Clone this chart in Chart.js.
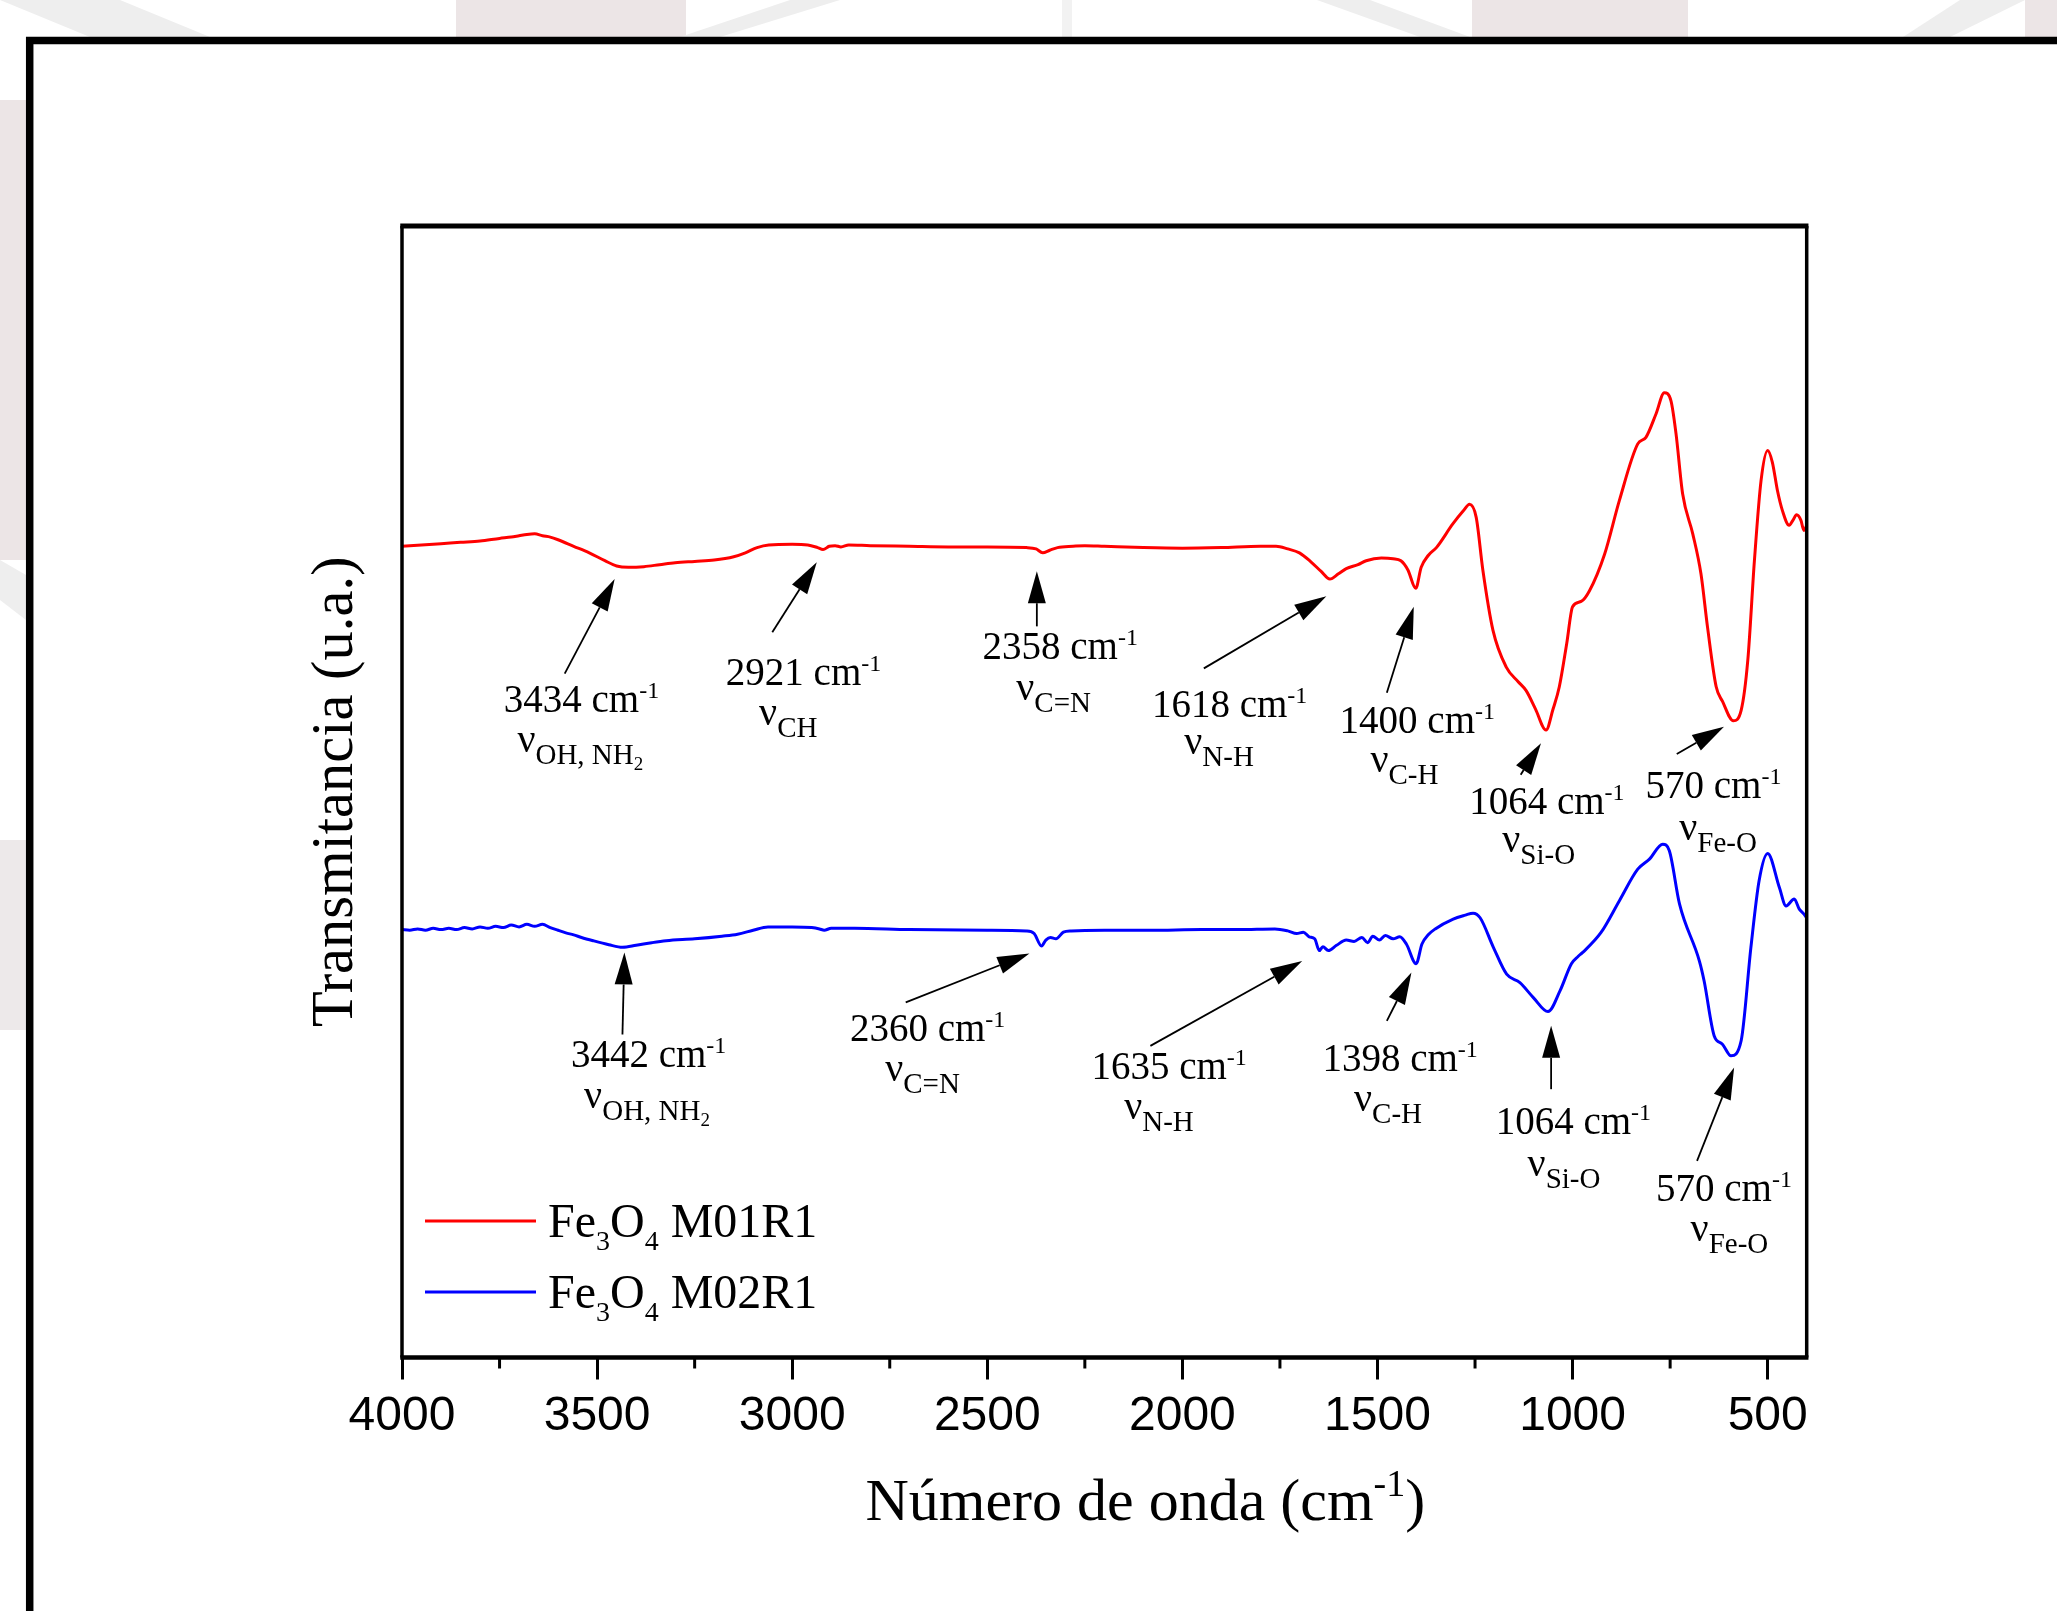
<!DOCTYPE html>
<html lang="es">
  <head>
    <meta charset="UTF-8" />
    <title>FTIR Fe3O4</title>
    <script src="https://cdn.jsdelivr.net/npm/chart.js"></script>
    <style>
      html,
      body {
        margin: 0;
        padding: 0;
        background: #fff;
      }
      canvas {
        display: block;
      }
    </style>
  </head>
  <body>
    <canvas id="ftir" width="2057" height="1611"></canvas>
  </body>
  <script>
    // spectra (x: cm-1, y: arbitrary units)
    const redWavenumber = [
      4000, 3950, 3900, 3850, 3800, 3750, 3720, 3700, 3680, 3660,
      3640, 3620, 3600, 3560, 3520, 3480, 3450, 3420, 3380, 3340,
      3300, 3250, 3200, 3150, 3120, 3090, 3060, 3000, 2960, 2935,
      2921, 2905, 2890, 2875, 2855, 2800, 2700, 2600, 2500, 2400,
      2375, 2358, 2340, 2320, 2280, 2250, 2200, 2100, 2000, 1900,
      1800, 1760, 1730, 1700, 1670, 1645, 1622, 1600, 1580, 1550,
      1529, 1490, 1460, 1440, 1422, 1402, 1388, 1370, 1349, 1307,
      1280, 1264, 1247, 1230, 1204, 1170, 1140, 1119, 1095, 1068,
      1050, 1034, 1015, 1000, 978, 957, 918, 880, 833, 812,
      786, 765, 748, 735, 718, 692, 671, 654, 632, 616,
      588, 568, 551, 534, 517, 500, 488, 475, 462, 445,
      435, 426, 415, 407, 400,
    ];
    const redT = [
      618, 619, 620, 621, 622, 624, 625, 626, 627, 627.5,
      626, 625, 623, 618, 613, 607, 603, 602, 602.5, 604,
      605.5, 606.5, 607.5, 610, 613, 617, 619, 619.5, 619, 617,
      615.5, 618, 618.5, 617.5, 619, 618.5, 618, 617.5, 617.5, 617,
      616, 613, 615, 617, 618, 618.5, 618, 617, 616.5, 617,
      618, 618, 616, 613, 606, 599, 593, 597, 601, 604,
      607, 609, 608.5, 607, 600, 586, 602, 611, 617, 635,
      645, 650, 640, 600, 554, 526, 515, 508, 494, 478,
      494, 511, 544, 572, 576, 584, 612, 653, 696, 701,
      719, 735, 729, 704, 658, 627.5, 597, 556, 511, 500,
      485, 493, 531, 607, 668, 691, 682, 660.5, 645, 634,
      638, 642, 638, 630, 634,
    ];

    const blueWavenumber = [
      4000, 3980, 3960, 3940, 3920, 3900, 3880, 3860, 3840, 3820,
      3800, 3780, 3760, 3740, 3720, 3700, 3680, 3660, 3640, 3620,
      3600, 3580, 3560, 3540, 3510, 3470, 3435, 3400, 3360, 3323,
      3250, 3180, 3140, 3100, 3062, 3000, 2950, 2930, 2918, 2900,
      2840, 2700, 2500, 2400, 2380, 2361, 2350, 2338, 2324, 2305,
      2285, 2200, 2083, 1950, 1855, 1763, 1730, 1707, 1690, 1675,
      1661, 1649, 1640, 1626, 1605, 1580, 1560, 1540, 1525, 1512,
      1495, 1480, 1460, 1443, 1426, 1401, 1386, 1370, 1352, 1306,
      1275, 1255, 1237, 1203, 1169, 1135, 1100, 1063, 1032, 1003,
      986, 974, 927, 880, 833, 803, 769, 752, 726, 675,
      663, 637, 616, 594, 568, 543, 522, 500, 470, 453,
      432, 419, 407, 400,
    ];
    const blueT = [
      326, 325.5, 326.5, 325.5, 327, 326, 327, 326, 327.5, 326.5,
      328, 327, 328.5, 327.5, 329.5, 328, 330, 328.5, 330, 327.5,
      325.5, 323.5, 322, 320, 317.5, 314.5, 312.5, 314, 316, 317.5,
      319, 321, 322.5, 325.5, 328, 328, 327.5, 326.5, 325.5, 327,
      327, 326, 325.5, 325, 323, 313.5, 318, 320, 319, 324,
      325, 325.5, 325.5, 326, 326, 326.5, 325, 323, 324, 320.5,
      319, 310, 313, 310, 314, 318, 317, 320, 316, 321,
      318, 321.5, 319, 320.5, 315, 300, 315, 322, 326.5, 334,
      337, 338.5, 335, 312.5, 292, 285.5, 274, 263.5, 279.5, 300,
      305.5, 308.6, 323.8, 348, 372, 379.7, 391, 386, 345.5, 302,
      287, 245, 238.7, 229.8, 241.3, 312.4, 363.2, 384, 358, 344,
      349.3, 341.6, 337.8, 335,
    ];

    const xTicks = [4000, 3500, 3000, 2500, 2000, 1500, 1000, 500];
    const xMinorTicks = [3750, 3250, 2750, 2250, 1750, 1250, 750];
    const seriesNames = ["M01R1", "M02R1"];

    // peak labels: arrow head/tail and text anchors in data units
    const redPeaks = [
      { cm: "3434", sub: ["OH, NH", "2"], head: [3455, 593], tail: [3583, 521], text: [3540, 492, 3543, 461.5] },
      { cm: "2921", sub: ["CH"], head: [2937, 605.8], tail: [3051, 552.5], text: [2971, 512.6, 3010, 482] },
      { cm: "2358", sub: ["C=N"], head: [2373, 599], tail: [2373, 557], text: [2313, 532, 2330, 501] },
      { cm: "1618", sub: ["N-H"], head: [1631, 580], tail: [1945, 525], text: [1879, 488, 1906, 460] },
      { cm: "1400", sub: ["C-H"], head: [1407, 572], tail: [1476, 506.5], text: [1398, 476, 1431, 446] },
      { cm: "1064", sub: ["Si-O"], head: [1081, 468], tail: [1133, 444], text: [1066, 414, 1087, 385] },
      { cm: "570", sub: ["Fe-O"], head: [612, 480.6], tail: [733, 459.7], text: [639, 426.5, 627, 394] },
    ];
    const bluePeaks = [
      { cm: "3442", sub: ["OH, NH", "2"], head: [3430, 308.6], tail: [3435, 246], text: [3368, 221, 3372, 190.4] },
      { cm: "2360", sub: ["C=N"], head: [2392, 307.8], tail: [2709, 270.5], text: [2653, 241.3, 2666, 210.8] },
      { cm: "1635", sub: ["N-H"], head: [1693, 302], tail: [2082, 237.4], text: [2034, 212, 2060, 182] },
      { cm: "1398", sub: ["C-H"], head: [1413, 293.3], tail: [1476, 256.5], text: [1442, 218.4, 1473, 188] },
      { cm: "1064", sub: ["Si-O"], head: [1055, 252.7], tail: [1055, 204.4], text: [998, 170, 1022, 138.3] },
      { cm: "570", sub: ["Fe-O"], head: [586, 221], tail: [681, 149.8], text: [612, 119.3, 598, 88.8] },
    ];

    const RED = "#ff0000";
    const BLUE = "#0000ff";
    const SERIF = '"Liberation Serif", "Times New Roman", serif';

    const toXY = (xs, ys) => xs.map((x, i) => ({ x: x, y: ys[i] }));

    const line = (c, x0, y0, x1, y1, w) => {
      c.lineWidth = w;
      c.beginPath();
      c.moveTo(x0, y0);
      c.lineTo(x1, y1);
      c.stroke();
    };

    // parts: [text, size, dy]
    const drawRich = (c, parts, cx, by, align) => {
      let w = 0;
      parts.forEach((p) => {
        c.font = p[1] + "px " + SERIF;
        w += c.measureText(p[0]).width;
      });
      let x = align === "left" ? cx : cx - w / 2;
      c.textAlign = "left";
      c.textBaseline = "alphabetic";
      parts.forEach((p) => {
        c.font = p[1] + "px " + SERIF;
        c.fillText(p[0], x, by + p[2]);
        x += c.measureText(p[0]).width;
      });
    };

    const drawArrow = (c, x0, y0, x1, y1) => {
      const ang = Math.atan2(y1 - y0, x1 - x0);
      const hl = 32;
      const hw = 9;
      const bx = x1 - hl * Math.cos(ang);
      const by = y1 - hl * Math.sin(ang);
      line(c, x0, y0, bx, by, 1.8);
      c.beginPath();
      c.moveTo(x1, y1);
      c.lineTo(bx + hw * Math.sin(ang), by - hw * Math.cos(ang));
      c.lineTo(bx - hw * Math.sin(ang), by + hw * Math.cos(ang));
      c.closePath();
      c.fill();
    };

    const drawPeak = (c, sx, sy, p) => {
      const px = (v) => sx.getPixelForValue(v);
      const py = (v) => sy.getPixelForValue(v);
      drawArrow(c, px(p.tail[0]), py(p.tail[1]), px(p.head[0]), py(p.head[1]));
      drawRich(c, [[p.cm + " cm", 39, 0], ["-1", 24, -14]], px(p.text[0]), py(p.text[1]));
      const second = [["\u03bd", 40, 0], [p.sub[0], 29, 12]];
      if (p.sub[1]) second.push([p.sub[1], 19, 18]);
      drawRich(c, second, px(p.text[2]), py(p.text[3]));
    };

    const paperPlugin = {
      id: "paper",
      beforeDraw(chart) {
        const c = chart.ctx;
        c.save();
        c.fillStyle = "#fff";
        c.fillRect(0, 0, chart.width, chart.height);
        // faint watermark showing around the outer frame
        c.fillStyle = "#ece5e6";
        c.fillRect(456, 0, 230, 37);
        c.fillRect(1472, 0, 216, 37);
        c.fillRect(2025, 0, 32, 37);
        c.fillRect(0, 100, 26, 460);
        c.fillStyle = "#ede9ea";
        c.fillRect(0, 840, 26, 190);
        c.fillStyle = "#eeeeee";
        const poly = (pts) => {
          c.beginPath();
          c.moveTo(pts[0][0], pts[0][1]);
          pts.slice(1).forEach((q) => c.lineTo(q[0], q[1]));
          c.closePath();
          c.fill();
        };
        poly([[790, 0], [840, 0], [720, 37], [680, 37]]);
        poly([[1317, 0], [1370, 0], [1470, 37], [1420, 37]]);
        poly([[1960, 0], [2025, 0], [1950, 37], [1903, 37]]);
        poly([[0, 0], [120, 0], [210, 37], [90, 37]]);
        poly([[0, 560], [26, 575], [26, 620], [0, 600]]);
        c.fillStyle = "#f2f2f2";
        c.fillRect(1062, 0, 10, 37);
        // outer frame
        c.strokeStyle = "#000";
        c.lineCap = "butt";
        c.lineJoin = "miter";
        c.lineWidth = 7.5;
        c.beginPath();
        c.moveTo(29.7, 1611);
        c.lineTo(29.7, 40.5);
        c.lineTo(2057, 40.5);
        c.stroke();
        c.restore();
      },
    };

    const overlayPlugin = {
      id: "overlay",
      afterDraw(chart) {
        const c = chart.ctx;
        const a = chart.chartArea;
        const sx = chart.scales.x;
        const sy = chart.scales.y;
        c.save();
        c.strokeStyle = "#000";
        c.fillStyle = "#000";
        // plot frame
        line(c, a.left - 1.75, a.top, a.right + 1.75, a.top, 5);
        line(c, a.left - 1.75, a.bottom, a.right + 1.75, a.bottom, 4.5);
        line(c, a.left, a.top, a.left, a.bottom, 3.5);
        line(c, a.right, a.top, a.right, a.bottom, 3.5);
        // minor ticks
        xMinorTicks.forEach((v) => {
          const x = sx.getPixelForValue(v);
          line(c, x, a.bottom, x, a.bottom + 11, 3);
        });
        // peak labels
        redPeaks.concat(bluePeaks).forEach((p) => drawPeak(c, sx, sy, p));
        // legend
        chart.data.datasets.forEach((ds, i) => {
          const ly = a.bottom - 136.5 + i * 71;
          c.strokeStyle = ds.borderColor;
          line(c, a.left + 23, ly, a.left + 134, ly, 3);
          drawRich(
            c,
            [["Fe", 48, 0], ["3", 28, 13], ["O", 48, 0], ["4", 28, 13], [" " + seriesNames[i], 48, 0]],
            a.left + 146,
            ly + 16,
            "left"
          );
        });
        // axis titles
        drawRich(
          c,
          [["Número de onda (cm", 60, 0], ["-1", 38, -24], [")", 60, 0]],
          (a.left + a.right) / 2 + 41,
          a.bottom + 162.5
        );
        c.translate(352, (a.top + a.bottom) / 2);
        c.rotate(-Math.PI / 2);
        drawRich(c, [["Transmitancia (u.a.)", 58.5, 0]], 0, 0);
        c.restore();
      },
    };

    const chart = new Chart(document.getElementById("ftir"), {
      type: "line",
      data: {
        datasets: [
          {
            label: "Fe3O4 " + seriesNames[0],
            data: toXY(redWavenumber, redT),
            borderColor: RED,
            borderWidth: 3,
            pointRadius: 0,
            cubicInterpolationMode: "monotone",
            fill: false,
          },
          {
            label: "Fe3O4 " + seriesNames[1],
            data: toXY(blueWavenumber, blueT),
            borderColor: BLUE,
            borderWidth: 3,
            pointRadius: 0,
            cubicInterpolationMode: "monotone",
            fill: false,
          },
        ],
      },
      options: {
        responsive: false,
        animation: false,
        devicePixelRatio: 1,
        layout: { padding: { left: 402, right: 250.3, top: 226, bottom: 0 } },
        plugins: { legend: { display: false }, tooltip: { enabled: false } },
        scales: {
          x: {
            type: "linear",
            reverse: true,
            min: 400,
            max: 4000,
            afterBuildTicks: (s) => {
              s.ticks = xTicks.map((v) => ({ value: v }));
            },
            afterFit: (s) => {
              s.height = 253.5;
            },
            grid: { drawOnChartArea: false, tickLength: 22, lineWidth: 3, color: "#000" },
            border: { display: false },
            ticks: {
              callback: (v) => String(v),
              font: { family: '"Liberation Sans", Arial, sans-serif', size: 48 },
              color: "#000",
              padding: 8,
              maxRotation: 0,
              autoSkip: false,
            },
          },
          y: { display: false, min: 0, max: 862 },
        },
      },
      plugins: [paperPlugin, overlayPlugin],
    });
  </script>
</html>
